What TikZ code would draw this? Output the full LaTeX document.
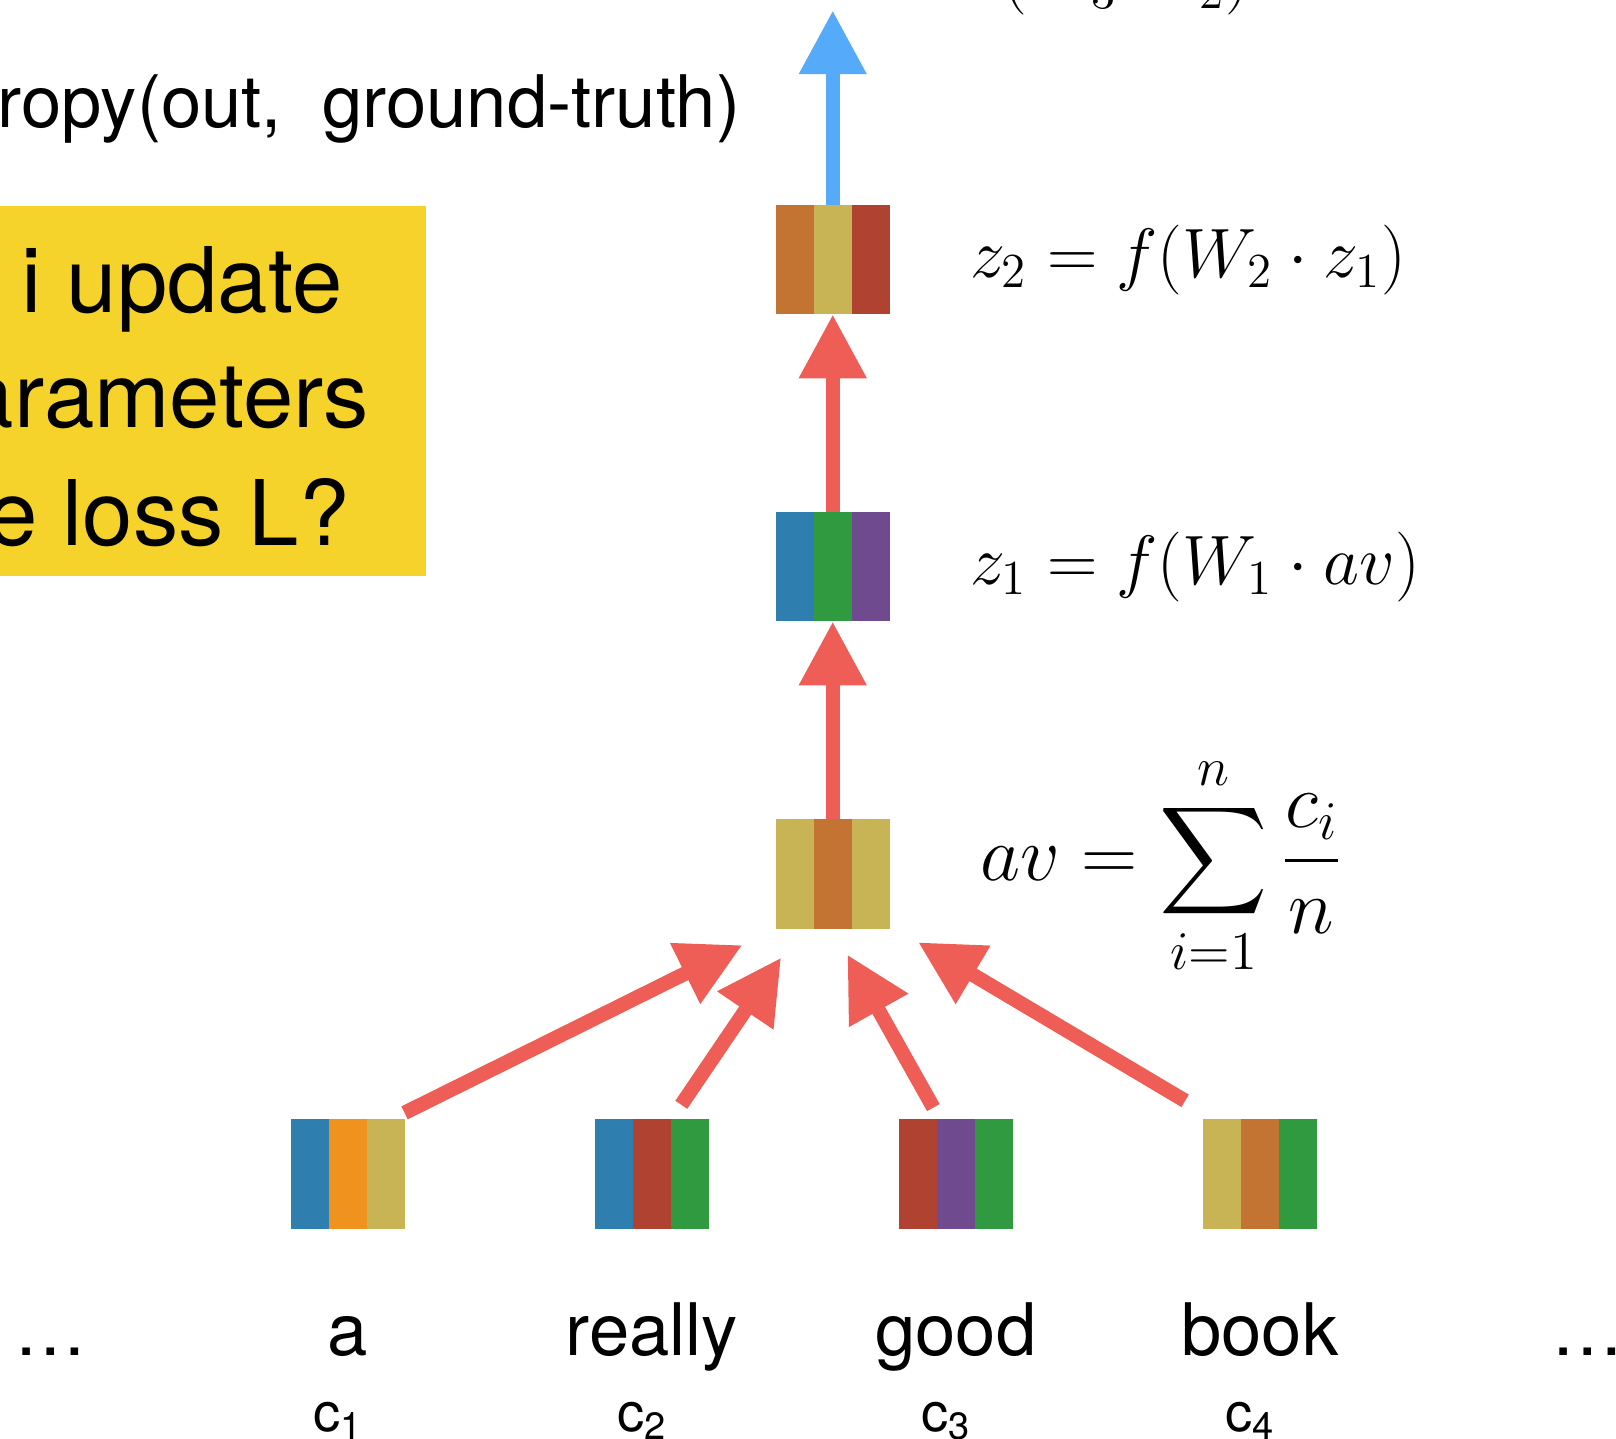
\RequirePackage{fix-cm}
\documentclass[tikz,border=0pt]{standalone}
\usepackage{exscale}
\usepackage{fontspec}
\setmainfont{TeX Gyre Heros}
\usetikzlibrary{positioning,arrows.meta}
\definecolor{vblue}{RGB}{46,126,176}
\definecolor{vorange}{RGB}{240,146,30}
\definecolor{vyellow}{RGB}{200,180,85}
\definecolor{vred}{RGB}{176,66,50}
\definecolor{vgreen}{RGB}{48,154,64}
\definecolor{vpurple}{RGB}{112,74,142}
\definecolor{vbrown}{RGB}{196,116,50}
\definecolor{arrred}{RGB}{238,94,86}
\definecolor{arrblue}{RGB}{86,170,250}
\definecolor{askyellow}{RGB}{246,211,42}
\tikzset{
  vec/.style n args={3}{minimum width=1.11cm, minimum height=1.06cm, inner sep=0pt, outer sep=0pt, fill=#2,
    path picture={
      \fill[#1] (path picture bounding box.south west) rectangle ([xshift=3.7mm]path picture bounding box.north west);
      \fill[#2] ([xshift=3.7mm]path picture bounding box.south west) rectangle ([xshift=-3.7mm]path picture bounding box.north east);
      \fill[#3] ([xshift=-3.7mm]path picture bounding box.south east) rectangle (path picture bounding box.north east);
    }},
  arr/.style={line width=0.14cm, -{Triangle[width=0.62cm,length=0.62cm]}},
  redarr/.style={arr, draw=arrred},
  bluearr/.style={arr, draw=arrblue},
  eq/.style={font=\fontsize{19.3}{23}\selectfont, inner sep=0pt},
  lbl/.style={font=\fontsize{20}{24}\selectfont, inner sep=0pt},
  ask/.style={font=\fontsize{25}{30}\selectfont, inner sep=0pt, anchor=base east},
  cl/.style={font=\fontsize{15}{18}\selectfont, inner sep=0pt, anchor=base}
}
\begin{document}
\begin{tikzpicture}[x=1cm,y=1cm, line join=round]
	\useasboundingbox (0,0) rectangle (15.68,-13.96);
	\clip (0,0) rectangle (15.68,-13.96);
	% question box
	\fill[askyellow] (0,-2.00) rectangle (4.13,-5.59);
	\node[ask] (q1) at (3.33,-3.03) {i update};
	\node[ask] (q2) at (3.59,-4.15) {arameters};
	\node[ask] (q3) at (3.40,-5.29) {e loss L?};
	% loss and output
	\node[lbl, anchor=base east] (loss) at (7.19,-1.24) {ropy(out,\ \ ground-truth)};
	\node[eq, anchor=base west] (outeq) at (9.72,0.02) {$(W_3\cdot z_2)$};
	% vectors
	\node[vec={vyellow}{vbrown}{vyellow}] (av) at (8.08,-8.48) {};
	\node[vec={vblue}{vgreen}{vpurple}, above=1.92cm of av] (z1) {};
	\node[vec={vbrown}{vyellow}{vred}, above=1.92cm of z1] (z2) {};
	\node[vec={vblue}{vorange}{vyellow}] (w1) at (3.375,-11.39) {};
	\node[vec={vblue}{vred}{vgreen}, right=1.84cm of w1] (w2) {};
	\node[vec={vred}{vpurple}{vgreen}, right=1.84cm of w2] (w3) {};
	\node[vec={vyellow}{vbrown}{vgreen}, right=1.84cm of w3] (w4) {};
	% equations
	\node[eq, right=0.77cm of z2] (z2eq) {$z_2 = f(W_2\cdot z_1)$};
	\node[eq, right=0.77cm of z1] (z1eq) {$z_1 = f(W_1\cdot av)$};
	\node[eq, font=\fontsize{21.5}{25}\selectfont, right=0.87cm of av, yshift=0.08cm] (aveq) {$\displaystyle av = \sum_{i=1}^{n}\frac{c_i}{n}$};
	% words
	\coordinate (wordline) at (0,-13.15);
	\coordinate (cline) at (0,-13.89);
	\foreach \w/\t/\i in {w1/a/1, w2/really/2, w3/good/3, w4/book/4}{
		\node[lbl, anchor=base] (t\i) at (\w |- wordline) {\t};
		\node[cl, xshift=-0.09cm] (c\i) at (\w |- cline) {c\textsubscript{\i}};
	}
	\node[lbl, anchor=base] (dl) at (0.49,-13.15) {\textellipsis};
	\node[lbl, anchor=base west] (dr) at (15.05,-13.15) {\textellipsis};
	% arrows
	\coordinate (out) at (8.08,-0.10);
	\draw[bluearr] (z2.north) -- (out);
	\draw[redarr] (z1.north) -- (z2.south);
	\draw[redarr] (av.north) -- (z1.south);
	\draw[redarr, shorten <=0.14cm, shorten >=0.36cm] ([xshift=-0.13cm]w1.north east) -- (av.south west);
	\draw[redarr, shorten <=0.17cm, shorten >=0.34cm] ([xshift=0.19cm]w2.north) -- ([xshift=-0.31cm]av.south);
	\draw[redarr, shorten <=0.13cm, shorten >=0.29cm] ([xshift=-0.155cm]w3.north) -- (av.south);
	\draw[redarr, shorten <=0.35cm, shorten >=0.26cm] ([xshift=0.13cm]w4.north west) -- ([xshift=0.05cm]av.south east);
\end{tikzpicture}
\end{document}
